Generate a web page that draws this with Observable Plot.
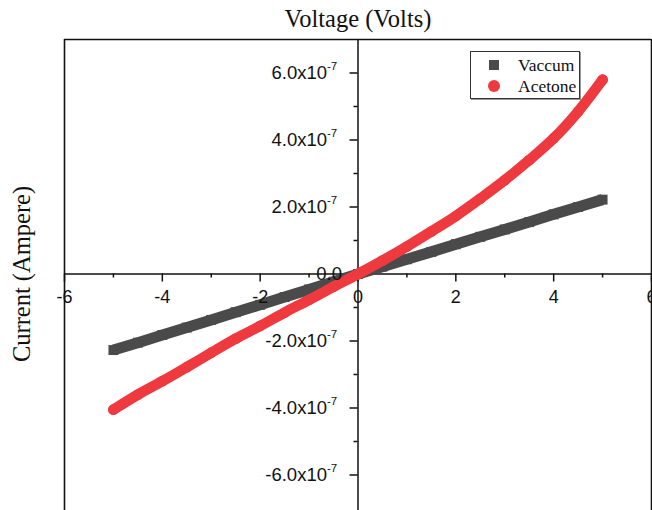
<!DOCTYPE html>
<html>
<head>
<meta charset="utf-8">
<script src="https://cdn.jsdelivr.net/npm/d3@7"></script>
<script src="https://cdn.jsdelivr.net/npm/@observablehq/plot@0.6"></script>
<style>
  html, body { margin: 0; padding: 0; background: #fff; }
  #wrap { position: relative; width: 652px; height: 510px; overflow: hidden; }
  #legend { position: absolute; left: 470px; top: 51px; width: 108px; height: 46px;
            border: 1px solid #333; box-shadow: 1px 1px 0 #999; background: #fff;
            font-family: "Liberation Serif", "Times New Roman", serif; font-size: 17.5px; color: #111; }
  .row { position: absolute; left: 0; height: 20px; line-height: 20px; }
  .sw { position: absolute; }
  .lab { position: absolute; left: 47px; white-space: nowrap; }
</style>
</head>
<body>
<div id="wrap"></div>
<script>
// ---- data ----
const voltage = [-5, -4.5, -4, -3.5, -3, -2.5, -2, -1.5, -1, -0.5, 0, 0.5, 1, 1.5, 2, 2.5, 3, 3.5, 4, 4.5, 5];
const vaccum  = [-2.27e-7, -2.05e-7, -1.82e-7, -1.6e-7, -1.37e-7, -1.14e-7, -0.92e-7, -0.69e-7, -0.46e-7, -0.23e-7, 0,
                 0.22e-7, 0.44e-7, 0.66e-7, 0.89e-7, 1.11e-7, 1.33e-7, 1.55e-7, 1.78e-7, 2.0e-7, 2.22e-7];
const acetone = [-4.05e-7, -3.6e-7, -3.2e-7, -2.78e-7, -2.35e-7, -1.93e-7, -1.55e-7, -1.15e-7, -0.77e-7, -0.38e-7, 0,
                 0.4e-7, 0.82e-7, 1.27e-7, 1.73e-7, 2.25e-7, 2.8e-7, 3.4e-7, 4.05e-7, 4.85e-7, 5.8e-7];
const seriesNames = ["Vaccum", "Acetone"];
const seriesColors = ["#4a4a4a", "#ee3a3f"];

const xDomain = [-6, 6];
const yDomain = [-7e-7, 7e-7];
const xTicks = [-6, -4, -2, 0, 2, 4, 6];
const xTickLabels = ["-6", "-4", "-2", "0", "2", "4", "6"];
const xMinor = [-5, -3, -1, 1, 3, 5];
const yTicks = [-6e-7, -4e-7, -2e-7, 0, 2e-7, 4e-7, 6e-7];
const yTickBase = ["-6.0x10", "-4.0x10", "-2.0x10", "0.0", "2.0x10", "4.0x10", "6.0x10"];
const yTickExp  = ["-7", "-7", "-7", "", "-7", "-7", "-7"];
const yMinor = [-5e-7, -3e-7, -1e-7, 1e-7, 3e-7, 5e-7];
const title = "Voltage (Volts)";
const yTitle = "Current (Ampere)";

const vacData = voltage.map((v, i) => ({v, c: vaccum[i]}));
const aceData = voltage.map((v, i) => ({v, c: acetone[i]}));
const expTicks = yTicks.map((t, i) => ({t, base: yTickBase[i], exp: yTickExp[i]}));

const sans = "'Liberation Sans', Arial, sans-serif";
const serif = "'Liberation Serif', 'Times New Roman', serif";
const ink = "#111";

const chart = Plot.plot({
  width: 652, height: 510,
  marginLeft: 64, marginRight: 1, marginTop: 39, marginBottom: 2,
  style: {background: "white", overflow: "visible"},
  x: {domain: xDomain, axis: null},
  y: {domain: yDomain, axis: null},
  marks: [
    // open-bottom frame (left, right, top)
    Plot.ruleX(xDomain, {x: d => d, insetBottom: -3, stroke: ink, strokeWidth: 1.6}),
    Plot.ruleY([yDomain[1]], {y: d => d, stroke: ink, strokeWidth: 1.6}),
    // axes through the origin
    Plot.ruleY([0], {stroke: ink, strokeWidth: 1.5}),
    Plot.ruleX([0], {stroke: ink, strokeWidth: 1.5, insetBottom: -3}),
    // x ticks (downward)
    Plot.ruleX(xTicks, {x: d => d, y1: () => 0, y2: () => 0, insetBottom: -8, stroke: ink, strokeWidth: 1.5}),
    Plot.ruleX(xMinor, {x: d => d, y1: () => 0, y2: () => 0, insetBottom: -4, stroke: ink, strokeWidth: 1.5}),
    // y ticks (leftward)
    Plot.ruleY(yTicks, {y: d => d, x1: () => 0, x2: () => 0, insetLeft: -8, stroke: ink, strokeWidth: 1.5}),
    Plot.ruleY(yMinor, {y: d => d, x1: () => 0, x2: () => 0, insetLeft: -4, stroke: ink, strokeWidth: 1.5}),
    // data: Vaccum (squares)
    Plot.line(vacData, {x: "v", y: "c", stroke: seriesColors[0], strokeWidth: 11, strokeLinecap: "butt"}),
    Plot.dot(vacData, {x: "v", y: "c", symbol: "square", r: 5.6, fill: seriesColors[0]}),
    // data: Acetone (circles)
    Plot.line(aceData, {x: "v", y: "c", stroke: seriesColors[1], strokeWidth: 10.5, strokeLinecap: "round", curve: "catmull-rom"}),
    Plot.dot(aceData, {x: "v", y: "c", r: 5.4, fill: seriesColors[1]}),
    // tick labels
    Plot.text(xTicks, {x: d => d, y: () => 0, text: (d, i) => xTickLabels[i], dy: 23, fontSize: 18, fontFamily: sans, fill: ink}),
    Plot.text(expTicks.filter(d => d.exp), {x: () => 0, y: "t", text: "base", textAnchor: "end", dx: -31, fontSize: 18.5, fontFamily: sans, fill: ink}),
    Plot.text(expTicks.filter(d => d.exp), {x: () => 0, y: "t", text: "exp", textAnchor: "start", dx: -31, dy: -7, fontSize: 11.5, fontFamily: sans, fill: ink}),
    Plot.text(expTicks.filter(d => !d.exp), {x: () => 0, y: "t", text: "base", textAnchor: "end", dx: -16, fontSize: 18.5, fontFamily: sans, fill: ink}),
    // titles
    Plot.text([title], {frameAnchor: "top", lineAnchor: "middle", dy: -20, fontSize: 24.5, fontFamily: serif, fill: ink}),
    Plot.text([yTitle], {frameAnchor: "left", textAnchor: "middle", lineAnchor: "middle", dx: -42, rotate: -90, fontSize: 24.5, fontFamily: serif, fill: ink})
  ]
});
const wrap = document.getElementById("wrap");
wrap.appendChild(chart);

// legend
const legend = document.createElement("div");
legend.id = "legend";
seriesNames.forEach((name, i) => {
  const row = document.createElement("div");
  row.className = "row";
  row.style.top = (i === 0 ? 3 : 24) + "px";
  row.style.width = "108px";
  const sw = document.createElement("div");
  sw.className = "sw";
  if (i === 0) {
    Object.assign(sw.style, {left: "18px", top: "5px", width: "10px", height: "10px", background: seriesColors[i]});
  } else {
    Object.assign(sw.style, {left: "17px", top: "4px", width: "12px", height: "12px", borderRadius: "50%", background: seriesColors[i]});
  }
  const lab = document.createElement("span");
  lab.className = "lab";
  lab.textContent = name;
  row.appendChild(sw);
  row.appendChild(lab);
  legend.appendChild(row);
});
wrap.appendChild(legend);
</script>
</body>
</html>
